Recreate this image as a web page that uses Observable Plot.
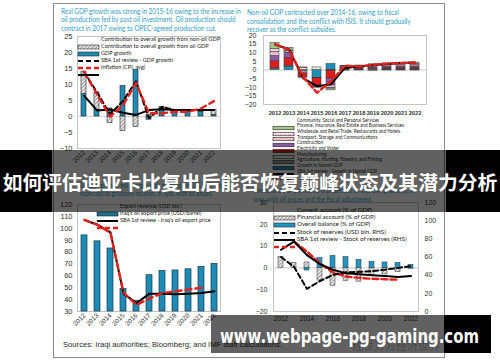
<!DOCTYPE html>
<html><head><meta charset="utf-8">
<script src="https://cdn.jsdelivr.net/npm/d3@7"></script>
<script src="https://cdn.jsdelivr.net/npm/@observablehq/plot@0.6"></script>
<style>
body{margin:0;width:500px;height:362px;position:relative;overflow:hidden;background:#fff}
.abs{position:absolute}
</style></head><body>
<svg width="0" height="0" style="position:absolute">
<defs>
<pattern id="hatchGray" patternUnits="userSpaceOnUse" width="2.6" height="2.6" patternTransform="rotate(45)">
<rect width="2.6" height="2.6" fill="#e4e4e4"/><line x1="0" y1="0" x2="0" y2="2.6" stroke="#6e6e6e" stroke-width="1.1"/></pattern>
<pattern id="dotsPink" patternUnits="userSpaceOnUse" width="2.5" height="2.5">
<rect width="2.5" height="2.5" fill="#fbeff3"/><circle cx="1.2" cy="1.2" r="0.6" fill="#d46a8a"/></pattern>
<pattern id="hatchPink" patternUnits="userSpaceOnUse" width="2.4" height="2.4" patternTransform="rotate(45)">
<rect width="2.4" height="2.4" fill="#f6d3dd"/><line x1="0" y1="0" x2="0" y2="2.4" stroke="#c0607c" stroke-width="0.9"/></pattern>
<pattern id="hatchGreen" patternUnits="userSpaceOnUse" width="2.4" height="2.4" patternTransform="rotate(45)">
<rect width="2.4" height="2.4" fill="#f3f6ea"/><line x1="0" y1="0" x2="0" y2="2.4" stroke="#a9b98a" stroke-width="0.8"/></pattern>
<pattern id="hatchDark" patternUnits="userSpaceOnUse" width="2" height="2" patternTransform="rotate(45)">
<rect width="2" height="2" fill="#b5b5b5"/><line x1="0" y1="0" x2="0" y2="2" stroke="#444" stroke-width="0.9"/></pattern>
</defs></svg>
<script>
// ---------------- DATA ----------------
const years = ["2012","2013","2014","2015","2016","2017","2018","2019","2020","2021","2022"];

// Panel 1: Real GDP growth
const nonOilContribution = [7, 5.5, -2, -4.5, -3.3, 0.6, 0.5, 0.5, 0.5, 0.5, 1.5];
const oilContribution    = [7, 2, 2.5, 9.5, 14.5, -1, 2.5, 1.5, 1.5, 1.5, 0.5];
const gdpGrowth          = [14, 7.6, 0.7, 4.8, 11, -0.5, 3, 2, 2, 2, 2];
const sbaGdpGrowth       = [14, 7, 0, 3.5, 10.5, 1, 1, 1.5, 1.5, 2.5, 4.8];
const inflation          = [6.5, 1.9, 2.2, 1.2, 0.5, 2, 2.3, 2, 2, 2, 2];
const panel1Ticks = [-10, -5, 0, 5, 10, 15, 20, 25];

// Panel 2: Non-oil GDP contributions by sector (bottom to top of stack)
const sectorNames = [
  "Agriculture, Hunting, Forestry, and Fishing",
  "Manufacturing",
  "Electricity and Water",
  "Construction",
  "Transport, Storage and Communications",
  "Wholesale and Retail Trade, Restaurants and Hotels",
  "Finance, Insurance, Real Estate and Business Services",
  "Community, Social and Personal Services"
];
const agriculture   = [0.5, 2, -0.5, -4.5, 3.5, 0.3, 0.3, 0.2, 0.3, 0.3, 0.3];
const manufacturing = [0.3, 0.3, -1.5, -0.3, -0.3, -0.4, -0.3, -0.5, -0.3, -0.3, -0.3];
const electricity   = [0.3, 0.2, 1, 1.5, -0.2, 0.2, 0.2, 0.3, 0.3, 0.3, 0.3];
const construction  = [4, 4.5, -2, -4.2, -4.5, 0.4, 0.5, 0.6, 0.7, 0.8, 0.8];
const transport     = [3, 3, -0.5, -1, -4, 0.4, 0.4, 0.5, 0.6, 0.7, 0.7];
const wholesale     = [2.5, 0.8, 0.5, -0.3, -1.3, 0.5, 0.4, 0.6, 0.7, 0.8, 0.8];
const finance       = [1.5, 0.5, 0, 0, -0.5, 0.3, 0.4, 0.5, 0.5, 0.6, 0.6];
const community     = [3.5, 1.5, 0, 0, -1, 0.3, 0.4, 0.6, 0.7, 0.8, 0.8];
const nonOilGrowth    = [14.7, 12, -4.7, -9.4, -8.2, 1.2, 2, 2.8, 3.5, 4, 4.3];
const sbaNonOilGrowth = [15, 11.8, -4, -13.2, -6.5, 2.5, 2, 3, 3.7, 4, 4.3];
const panel2Ticks = [-20, -15, -10, -5, 0, 5, 10, 15, 20];

// Panel 3: Export revenue and oil price
const exportRevenue  = [94, 89, 83, 49, 39, 60.5, 64, 64.5, 65.5, 67.5, 70];
const oilExportPrice = [107, 103, 96.5, 45, 37, 45, 45, 44.5, 45, 45.5, 47];
const sbaOilPrice    = [107, 103, 96, 46, 35.5, 41, 45.5, 47, 48.5, 50, null];
const panel3Ticks = [30, 40, 50, 60, 70, 80, 90, 100, 110, 120];

// Panel 4: Balance of payments and reserves
const currentAccount   = [5, 2.3, 2.5, -5.8, -8.3, -6, -6.3, -3.2, -3, -2, -0.5];
const financialAccount = [0, 0, -1.2, 4.5, 5.5, 5, 3.7, 2.8, 2.5, 2.3, 1.4];
const overallBalance   = [5, 0.5, -9.6, -6, -3.2, -2, -1.8, -1.5, -0.8, 0, 0.8];
const reserves         = [68, 77, 62, 52, 46, 42, 41, 40, 39, 38, 39];
const sbaReserves      = [null, 77, 66, 53, 43, 38.5, 37, 36, 35.5, 35, null];
const panel4LeftTicks  = [-20, -10, 0, 10, 20, 30];
const panel4RightTicks = [0, 20, 40, 60, 80, 100, 120];
const panel4XTicks = ["2012","2014","2016","2018","2020","2022"];

// ---------------- HELPERS ----------------
const TF = "Lato, 'Open Sans', sans-serif";
const AF = "'Liberation Sans', Arial, sans-serif";
const cv = document.createElement("canvas").getContext("2d");
function measure(str, font) { cv.font = font; return cv.measureText(str).width; }
function txt(str, x, y, o = {}) {
  const size = o.size || 7, weight = o.weight || 400, family = o.family || TF;
  const font = `${weight} ${size}px ${family}`;
  let s = o.scale || 1;
  if (o.width) s = o.width / measure(str, font);
  const d = document.createElement("div");
  d.textContent = str;
  Object.assign(d.style, {position: "absolute", left: x + "px", top: (y - size * 0.5) + "px",
    font: font, lineHeight: size + "px", color: o.color || "#222", whiteSpace: "nowrap",
    transform: `scaleX(${s})`, transformOrigin: "0 50%", zIndex: o.z || 2});
  document.body.appendChild(d);
  return s;
}
function block(lines, x, y0, dy, width, o = {}) {
  const font = `${o.weight || 400} ${o.size || 7}px ${o.family || TF}`;
  const s = width / measure(lines[0], font);
  lines.forEach((l, i) => txt(l, x, y0 + i * dy, {...o, scale: s}));
}
function place(el, x, y, z = 1) {
  const d = document.createElement("div");
  Object.assign(d.style, {position: "absolute", left: x + "px", top: y + "px", zIndex: z});
  d.appendChild(el); document.body.appendChild(d); return d;
}
const NS = "http://www.w3.org/2000/svg";
function swatch(item, x, y, w, h) {
  const svg = document.createElementNS(NS, "svg");
  svg.setAttribute("width", w + 2); svg.setAttribute("height", 6);
  let el;
  if (item.type === "rect") {
    el = document.createElementNS(NS, "rect");
    el.setAttribute("x", 1); el.setAttribute("y", 3 - h / 2); el.setAttribute("width", w); el.setAttribute("height", h);
    el.setAttribute("fill", item.fill); el.setAttribute("stroke", "#222"); el.setAttribute("stroke-width", 0.6);
  } else {
    el = document.createElementNS(NS, "line");
    el.setAttribute("x1", 1); el.setAttribute("x2", w + 1); el.setAttribute("y1", 3); el.setAttribute("y2", 3);
    el.setAttribute("stroke", item.stroke); el.setAttribute("stroke-width", item.sw || 2);
    if (item.dash) el.setAttribute("stroke-dasharray", item.dash);
  }
  svg.appendChild(el);
  place(svg, x - 1, y - 3, 2);
}
function legend(items, x, tx, y0, dy, refWidth, o) {
  const font = `${o.weight || 400} ${o.size}px ${o.family || TF}`;
  const s = refWidth / measure(items[o.ref || 0].label, font);
  items.forEach((it, i) => {
    const y = y0 + i * dy;
    swatch(it, x, y, o.sw || 21, o.sh || 4);
    txt(it.label, tx, y, {size: o.size, scale: s, color: "#222", family: o.family});
  });
}
const series = (arr) => years.map((yr, i) => ({year: yr, value: arr[i]})).filter(d => d.value != null);
const plotStyle = (size) => ({fontFamily: AF, fontSize: size + "px", color: "#333", background: "transparent", overflow: "visible"});

// page border
const page = document.createElement("div");
Object.assign(page.style, {position: "absolute", left: "53px", top: "3px", width: "390px", height: "353px", border: "1px solid #8a8a8a", zIndex: 0});
document.body.appendChild(page);

const TEAL_TXT = "#2f9dc6";
const RED = "#e3211c";
const OILBAR = "#1f8ab3";

// ---------------- PANEL 1 ----------------
block(["Real GDP growth was strong in 2015-16 owing to the increase in",
       "oil production fed by past oil investment. Oil production should",
       "contract in 2017 owing to OPEC-agreed production cut."], 61, 12, 8.2, 180, {size: 7.5, color: TEAL_TXT});

const p1Bars = years.flatMap((yr, i) => [
  {year: yr, series: "oil", value: oilContribution[i]},
  {year: yr, series: "nonoil", value: nonOilContribution[i]}
]);
const chart1 = Plot.plot({
  width: 172, height: 148, marginLeft: 24, marginRight: 5, marginTop: 8, marginBottom: 28,
  style: plotStyle(7.5),
  x: {type: "band", domain: years, paddingInner: 0.6, paddingOuter: 0.3, label: null},
  y: {domain: [-10, 25], label: null},
  color: {type: "identity"},
  marks: [
    Plot.frame({stroke: "#c4c4c4"}),
    Plot.axisY(panel1Ticks, {tickSize: 0, tickPadding: 5, fontSize: 7.5, label: null}),
    Plot.axisX(years, {tickSize: 0, tickPadding: 3, tickRotate: -45, fontSize: 6.5, label: null}),
    Plot.ruleY([0], {stroke: "#d4d4d4"}),
    Plot.barY(p1Bars, {x: "year", y: "value", z: "series",
      fill: d => d.series === "oil" ? OILBAR : "url(#hatchGray)", stroke: "#222", strokeWidth: 0.6}),
    Plot.lineY(series(inflation), {x: "year", y: "value", stroke: "#000", strokeWidth: 2}),
    Plot.lineY(series(gdpGrowth), {x: "year", y: "value", stroke: "#000", strokeWidth: 2, strokeDasharray: "5,3"}),
    Plot.lineY(series(sbaGdpGrowth), {x: "year", y: "value", stroke: RED, strokeWidth: 2.4, strokeDasharray: "6,4"})
  ]
});
place(chart1, 53, 28);
legend([
  {label: "Contribution to overall growth from non-oil GDP", type: "rect", fill: "url(#hatchGray)"},
  {label: "Contribution to overall growth from oil GDP", type: "rect", fill: OILBAR},
  {label: "GDP growth", type: "line", stroke: "#000", dash: "5,3"},
  {label: "SBA 1st review - GDP growth", type: "line", stroke: RED, dash: "5,3", sw: 2.4},
  {label: "Inflation (CPI, avg)", type: "line", stroke: "#000"}
], 78, 101, 39, 7, 119, {size: 6.3});

// ---------------- PANEL 2 ----------------
block(["Non-oil GDP contracted over 2014-16, owing to fiscal",
       "consolidation and the conflict with ISIS. It should gradually",
       "recover as the conflict subsides."], 247, 13, 8.5, 152, {size: 7.5, color: TEAL_TXT});

const sectorValues = [agriculture, manufacturing, electricity, construction, transport, wholesale, finance, community];
const sectorFill = {
  "Agriculture, Hunting, Forestry, and Fishing": "#1f8fb8",
  "Manufacturing": "url(#hatchDark)",
  "Electricity and Water": "url(#hatchGreen)",
  "Construction": "#e01b1b",
  "Transport, Storage and Communications": "#8b5aa6",
  "Wholesale and Retail Trade, Restaurants and Hotels": "url(#hatchPink)",
  "Finance, Insurance, Real Estate and Business Services": "url(#dotsPink)",
  "Community, Social and Personal Services": "#a6c78c"
};
const p2Bars = sectorNames.flatMap((name, s) => years.map((yr, i) => ({year: yr, sector: name, value: sectorValues[s][i]})));
const chart2 = Plot.plot({
  width: 195, height: 90, marginLeft: 26, marginRight: 6, marginTop: 4, marginBottom: 17,
  style: plotStyle(7),
  x: {type: "band", domain: years, paddingInner: 0.38, paddingOuter: 0.19, label: null},
  y: {domain: [-20, 20], label: null},
  color: {type: "identity"},
  marks: [
    Plot.frame({stroke: "#c4c4c4"}),
    Plot.axisY(panel2Ticks, {tickSize: 0, tickPadding: 7, fontSize: 7, label: null}),
    Plot.axisX(years, {tickSize: 0, tickPadding: 6, fontSize: 5.7, fontWeight: "bold", label: null}),
    Plot.ruleY([0], {stroke: "#c8c8c8"}),
    Plot.barY(p2Bars, {x: "year", y: "value", z: "sector", fill: d => sectorFill[d.sector], stroke: "#333", strokeWidth: 0.5}),
    Plot.lineY(series(nonOilGrowth), {x: "year", y: "value", stroke: "#000", strokeWidth: 2}),
    Plot.lineY(series(sbaNonOilGrowth), {x: "year", y: "value", stroke: RED, strokeWidth: 2.4, strokeDasharray: "6,3"})
  ]
});
place(chart2, 237, 31);
legend([
  ...sectorNames.slice().reverse().map(n => ({label: n, type: "rect", fill: sectorFill[n]})),
  {label: "Growth in Nonoil GDP", type: "line", stroke: "#000"},
  {label: "SBA 1st review - Growth in Nonoil GDP", type: "line", stroke: RED, dash: "4,3"}
], 273, 297, 120, 5.7, 107, {size: 5, ref: 1, sh: 3.5});

// ---------------- PANEL 3 ----------------
block(["Export revenue fell sharply with oil prices in 2015-16 and is",
       "expected to gradually recover, in sync with oil prices."], 80, 185.5, 8.5, 150, {size: 7.5, color: TEAL_TXT});

const chart3 = Plot.plot({
  width: 172, height: 135, marginLeft: 24, marginRight: 5, marginTop: 4, marginBottom: 24,
  style: plotStyle(7.5),
  x: {type: "band", domain: years, paddingInner: 0.55, paddingOuter: 0.275, label: null},
  y: {domain: [30, 120], label: null},
  marks: [
    Plot.frame({stroke: "#c4c4c4"}),
    Plot.axisY(panel3Ticks, {tickSize: 0, tickPadding: 5, fontSize: 7.5, label: null}),
    Plot.axisX(years, {tickSize: 0, tickPadding: 3, tickRotate: -45, fontSize: 6.5, label: null}),
    Plot.barY(series(exportRevenue), {x: "year", y1: 30, y2: "value", fill: OILBAR, stroke: "#0e3a4d", strokeWidth: 0.7}),
    Plot.lineY(series(oilExportPrice), {x: "year", y: "value", stroke: "#000", strokeWidth: 2}),
    Plot.lineY(series(sbaOilPrice), {x: "year", y: "value", stroke: RED, strokeWidth: 2.4, strokeDasharray: "6,4"})
  ]
});
place(chart3, 53, 200);
legend([
  {label: "Export revenue (USD bln.)", type: "rect", fill: "#1b6f8f"},
  {label: "Iraq's oil export price (USD/barrel)", type: "line", stroke: "#000"},
  {label: "SBA 1st review - Iraq's oil export price", type: "line", stroke: RED, dash: "5,3", sw: 2.4}
], 97, 120, 206, 7.2, 91, {size: 6, ref: 2});

txt("Sources: Iraqi authorities; Bloomberg; and IMF staff calculations.", 63, 345, {size: 7.8, width: 219, color: "#2a2a2a", family: AF});
txt("经世万方经济世界", 352, 345, {size: 11, color: "#b9b9b9", family: "'Noto Sans CJK SC'"});

// ---------------- PANEL 4 ----------------
block(["The balance of payments is projected to improve gradually, in",
       "sync with oil prices and the fiscal adjustment."], 253, 191, 8.4, 162, {size: 7.5, color: TEAL_TXT});

const toLeft = v => -20 + v * 50 / 120;
const fromLeft = v => (v + 20) * 120 / 50;
const p4Bars = years.flatMap((yr, i) => [
  {year: yr, series: "ca", value: currentAccount[i]},
  {year: yr, series: "fa", value: financialAccount[i]}
]);
const rhs = (arr) => series(arr).map(d => ({year: d.year, value: toLeft(d.value)}));
const chart4 = Plot.plot({
  width: 200, height: 130, marginLeft: 28, marginRight: 27, marginTop: 6, marginBottom: 15,
  style: plotStyle(7),
  x: {type: "band", domain: years, paddingInner: 0.58, paddingOuter: 0.29, label: null},
  y: {domain: [-20, 30], label: null},
  color: {type: "identity"},
  marks: [
    Plot.frame({stroke: "#c4c4c4"}),
    Plot.axisY(panel4LeftTicks, {anchor: "left", tickSize: 0, tickPadding: 6, fontSize: 7, label: null}),
    Plot.axisY(panel4RightTicks.map(toLeft), {anchor: "right", tickSize: 0, tickPadding: 6, fontSize: 7,
      tickFormat: d => Math.round(fromLeft(d)), label: null}),
    Plot.axisX(panel4XTicks, {tickSize: 0, tickPadding: 5, fontSize: 6.5, label: null}),
    Plot.ruleY([0], {stroke: "#c8c8c8"}),
    Plot.barY(p4Bars, {x: "year", y: "value", z: "series",
      fill: d => d.series === "fa" ? "#2196c4" : "url(#hatchGray)", stroke: "#333", strokeWidth: 0.5}),
    Plot.lineY(rhs(sbaReserves), {x: "year", y: "value", stroke: RED, strokeWidth: 2.4, strokeDasharray: "6,3"}),
    Plot.lineY(rhs(reserves), {x: "year", y: "value", stroke: "#000", strokeWidth: 2}),
    Plot.lineY(series(overallBalance), {x: "year", y: "value", stroke: "#000", strokeWidth: 2, strokeDasharray: "5,3"})
  ]
});
place(chart4, 245, 196);
legend([
  {label: "Current account (% of GDP)", type: "rect", fill: "url(#hatchGray)"},
  {label: "Financial account (% of GDP)", type: "rect", fill: "#2196c4"},
  {label: "Overall balance (% of GDP)", type: "line", stroke: "#000", dash: "5,3"},
  {label: "Stock of reserves (USD bln. RHS)", type: "line", stroke: "#000"},
  {label: "SBA 1st review - Stock of reserves (RHS)", type: "line", stroke: RED, dash: "5,3", sw: 2.4}
], 274, 297, 210, 7.3, 110, {size: 6.3, ref: 4});

// ---------------- OVERLAY BANNERS ----------------
function box(x, y, w, h, bg, z = 10) {
  const d = document.createElement("div");
  Object.assign(d.style, {position: "absolute", left: x + "px", top: y + "px", width: w + "px", height: h + "px", background: bg, zIndex: z});
  document.body.appendChild(d);
}
box(0, 150, 52, 62, "#000");
box(52, 150, 394, 62, "rgba(0,0,0,0.62)");
box(446, 150, 54, 62, "#000");
const title = document.createElement("div");
title.textContent = "如何评估迪亚卡比复出后能否恢复巅峰状态及其潜力分析";
Object.assign(title.style, {position: "absolute", left: "-10px", top: "169px", width: "520px", textAlign: "center",
  font: "700 19.8px 'Noto Sans CJK SC', sans-serif", lineHeight: "26px", color: "#fff", whiteSpace: "nowrap", zIndex: 12});
document.body.appendChild(title);

box(211, 315, 233, 38, "rgba(0,0,0,0.62)");
box(444, 315, 47, 38, "#000");
txt("www.webpage-pg-gaming.com", 220, 336, {size: 20, weight: 700, width: 259, color: "#fff", family: "'DejaVu Sans', sans-serif", z: 12});
</script>
</body></html>
